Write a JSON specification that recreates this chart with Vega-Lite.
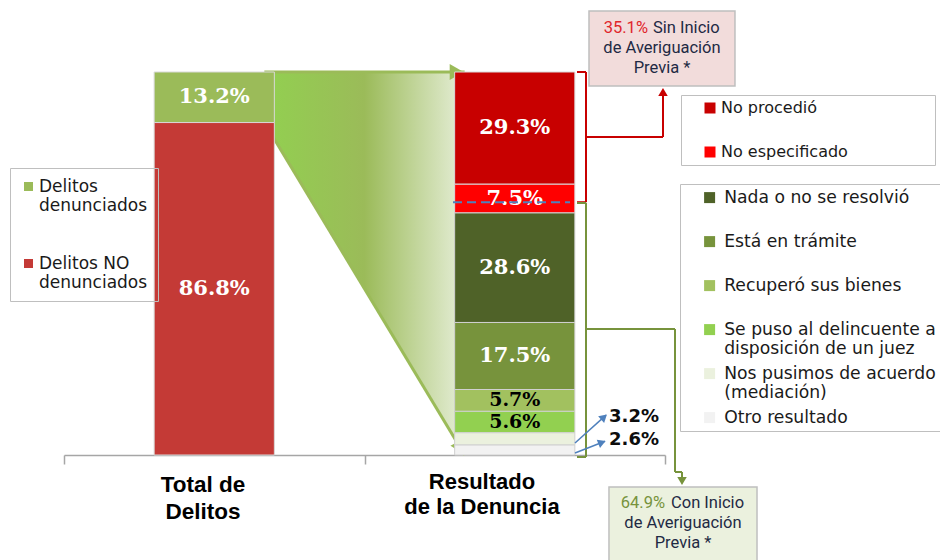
{
"$schema": "https://vega.github.io/schema/vega-lite/v6.json",
"width": 601,
"height": 383,
"autosize": {"type": "none"},
"padding": {"left": 64, "top": 72, "right": 275, "bottom": 105},
"background": "#ffffff",
"config": {
  "view": {"stroke": null},
  "axisX": {"labels": false, "tickBand": "extent", "domainColor": "#A6A6A6", "domainWidth": 1.5, "tickColor": "#A6A6A6", "tickWidth": 1.5, "tickSize": 9, "grid": false}
},
"resolve": {"scale": {"x": "independent", "y": "independent"}},
"layer": [
  {
    "data": {"values": [
      {"grupo": "Total de Delitos", "sup": 100, "inf": 86.8},
      {"grupo": "Resultado de la Denuncia", "sup": 100, "inf": 0}
    ]},
    "encoding": {
      "x": {"field": "grupo", "type": "nominal", "scale": {"type": "point", "domain": ["Total de Delitos", "Resultado de la Denuncia"], "padding": 1.19}, "axis": null},
      "y": {"field": "sup", "type": "quantitative", "scale": {"domain": [0, 100]}, "axis": null}
    },
    "layer": [
      {"mark": {"type": "area", "opacity": 1, "color": {"gradient": "linear", "x1": 0, "y1": 0, "x2": 1, "y2": 0, "stops": [{"offset": 0, "color": "#92D050"}, {"offset": 0.5, "color": "#9BBB59"}, {"offset": 1, "color": "#E6EED8"}]}},
       "encoding": {"y2": {"field": "inf"}}},
      {"mark": {"type": "line", "color": "#9BBB59", "strokeWidth": 3}, "encoding": {}},
      {"mark": {"type": "line", "color": "#9BBB59", "strokeWidth": 3},
       "encoding": {"y": {"field": "inf", "type": "quantitative", "scale": {"domain": [0, 100]}, "axis": null}}},
      {"transform": [{"filter": "datum.grupo == 'Resultado de la Denuncia'"}],
       "mark": {"type": "point", "shape": "triangle-right", "filled": true, "opacity": 1, "color": "#9BBB59", "size": 260, "xOffset": -8},
       "encoding": {}},
      {"transform": [{"filter": "datum.grupo == 'Resultado de la Denuncia'"}],
       "mark": {"type": "point", "shape": "triangle-right", "filled": true, "opacity": 1, "color": "#9BBB59", "size": 260, "angle": 61.7, "xOffset": -3.8, "yOffset": -7},
       "encoding": {"y": {"field": "inf", "type": "quantitative", "scale": {"domain": [0, 100]}, "axis": null}}}
    ]
  },
  {
    "data": {"values": [
      {"grupo": "Total de Delitos", "categoria": "Delitos denunciados", "averiguacion": "", "valor": 13.2, "orden": 1},
      {"grupo": "Total de Delitos", "categoria": "Delitos NO denunciados", "averiguacion": "", "valor": 86.8, "orden": 2},
      {"grupo": "Resultado de la Denuncia", "categoria": "No procedió", "averiguacion": "Sin inicio", "valor": 29.3, "orden": 1},
      {"grupo": "Resultado de la Denuncia", "categoria": "No especificado", "averiguacion": "Sin inicio", "valor": 7.5, "orden": 2},
      {"grupo": "Resultado de la Denuncia", "categoria": "Nada o no se resolvió", "averiguacion": "Con inicio", "valor": 28.6, "orden": 3},
      {"grupo": "Resultado de la Denuncia", "categoria": "Está en trámite", "averiguacion": "Con inicio", "valor": 17.5, "orden": 4},
      {"grupo": "Resultado de la Denuncia", "categoria": "Recuperó sus bienes", "averiguacion": "Con inicio", "valor": 5.7, "orden": 5},
      {"grupo": "Resultado de la Denuncia", "categoria": "Se puso al delincuente a disposición de un juez", "averiguacion": "Con inicio", "valor": 5.6, "orden": 6},
      {"grupo": "Resultado de la Denuncia", "categoria": "Nos pusimos de acuerdo (mediación)", "averiguacion": "Con inicio", "valor": 3.2, "orden": 7},
      {"grupo": "Resultado de la Denuncia", "categoria": "Otro resultado", "averiguacion": "Con inicio", "valor": 2.6, "orden": 8}
    ]},
    "transform": [
      {"stack": "valor", "groupby": ["grupo"], "sort": [{"field": "orden", "order": "descending"}], "as": ["y0", "y1"]},
      {"calculate": "(datum.y0 + datum.y1) / 2", "as": "medio"},
      {"calculate": "format(datum.valor, '.1f') + '%'", "as": "etiqueta"}
    ],
    "resolve": {"scale": {"color": "independent"}, "legend": {"color": "independent"}},
    "layer": [
      {
        "transform": [{"filter": "datum.grupo == 'Total de Delitos'"}],
        "mark": {"type": "bar", "width": {"band": 0.4}, "stroke": "#D9D9D9", "strokeWidth": 1},
        "encoding": {
          "x": {"field": "grupo", "type": "nominal", "title": null, "scale": {"domain": ["Total de Delitos", "Resultado de la Denuncia"], "paddingInner": 0, "paddingOuter": 0}},
          "y": {"field": "y0", "type": "quantitative", "scale": {"domain": [0, 100]}, "axis": null},
          "y2": {"field": "y1"},
          "color": {"field": "categoria", "type": "nominal",
            "scale": {"domain": ["Delitos denunciados", "Delitos NO denunciados"], "range": ["#9BBB59", "#C43A36"]},
            "legend": {"title": null, "orient": "none", "legendX": -54, "legendY": 96, "direction": "vertical", "strokeColor": "#BFBFBF", "padding": 10, "symbolType": "square", "symbolSize": 81, "symbolStrokeWidth": 0, "labelFont": "DejaVu Sans", "labelFontSize": 17, "labelColor": "#1a1a1a", "labelLimit": 500, "labelOffset": 2, "rowPadding": 40,
              "labelExpr": "datum.label == 'Delitos denunciados' ? ['Delitos', 'denunciados'] : ['Delitos NO', 'denunciados']",
              "encode": {"labels": {"update": {"lineHeight": {"value": 23}}}}}}
        }
      },
      {
        "transform": [{"filter": "datum.averiguacion == 'Sin inicio'"}],
        "mark": {"type": "bar", "width": {"band": 0.4}, "stroke": "#D9D9D9", "strokeWidth": 1},
        "encoding": {
          "x": {"field": "grupo", "type": "nominal", "title": null, "scale": {"domain": ["Total de Delitos", "Resultado de la Denuncia"], "paddingInner": 0, "paddingOuter": 0}},
          "y": {"field": "y0", "type": "quantitative", "scale": {"domain": [0, 100]}, "axis": null},
          "y2": {"field": "y1"},
          "color": {"field": "categoria", "type": "nominal",
            "scale": {"domain": ["No procedió", "No especificado"], "range": ["#C80000", "#FF0000"]},
            "legend": {"title": null, "orient": "none", "legendX": 617, "legendY": 23, "direction": "vertical", "strokeColor": "#BFBFBF", "padding": 5, "symbolOffset": 16, "symbolType": "square", "symbolSize": 121, "symbolStrokeWidth": 0, "labelFont": "DejaVu Sans", "labelFontSize": 16, "labelColor": "#1a1a1a", "labelLimit": 600, "labelOffset": 3, "rowPadding": 28,
              "labelExpr": "datum.label == 'No especificado' ? datum.label + '\u2800\u2800\u2800\u2800\u2800\u2800\u2800' : datum.label"}}
        }
      },
      {
        "transform": [{"filter": "datum.averiguacion == 'Con inicio'"}],
        "mark": {"type": "bar", "width": {"band": 0.4}, "stroke": "#D0D0D0", "strokeWidth": 1},
        "encoding": {
          "x": {"field": "grupo", "type": "nominal", "title": null, "scale": {"domain": ["Total de Delitos", "Resultado de la Denuncia"], "paddingInner": 0, "paddingOuter": 0}},
          "y": {"field": "y0", "type": "quantitative", "scale": {"domain": [0, 100]}, "axis": null},
          "y2": {"field": "y1"},
          "color": {"field": "categoria", "type": "nominal",
            "scale": {"domain": ["Nada o no se resolvió", "Está en trámite", "Recuperó sus bienes", "Se puso al delincuente a disposición de un juez", "Nos pusimos de acuerdo (mediación)", "Otro resultado"],
                      "range": ["#4F6228", "#77933C", "#A2C15F", "#92D050", "#EBF1DE", "#F2F2F2"]},
            "legend": {"title": null, "orient": "none", "legendX": 616, "legendY": 112, "direction": "vertical", "strokeColor": "#BFBFBF", "padding": 5, "symbolOffset": 16, "symbolType": "square", "symbolSize": 121, "symbolStrokeWidth": 0, "labelFont": "DejaVu Sans", "labelFontSize": 17.2, "labelColor": "#1a1a1a", "labelLimit": 600, "labelOffset": 6, "rowPadding": 7, "gridAlign": "all",
              "labelExpr": "datum.label == 'Se puso al delincuente a disposición de un juez' ? ['Se puso al delincuente a', 'disposición de un juez'] : datum.label == 'Nos pusimos de acuerdo (mediación)' ? ['Nos pusimos de acuerdo', '(mediación)'] : datum.label",
              "encode": {"labels": {"update": {"lineHeight": {"value": 21}}}}}}
        }
      },
      {
        "transform": [{"filter": "datum.valor >= 5"}],
        "mark": {"type": "text", "font": "DejaVu Serif", "fontWeight": "bold", "baseline": "middle", "align": "center"},
        "encoding": {
          "x": {"field": "grupo", "type": "nominal", "title": null, "scale": {"domain": ["Total de Delitos", "Resultado de la Denuncia"], "paddingInner": 0, "paddingOuter": 0}},
          "y": {"field": "medio", "type": "quantitative", "scale": {"domain": [0, 100]}, "axis": null},
          "text": {"field": "etiqueta"},
          "size": {"condition": {"test": "datum.valor < 6", "value": 19}, "value": 21},
          "color": {"condition": {"test": "datum.valor < 6", "value": "#000000"}, "value": "#FFFFFF"}
        }
      },
      {
        "transform": [{"filter": "datum.categoria == 'Nos pusimos de acuerdo (mediación)'"}],
        "mark": {"type": "text", "font": "DejaVu Sans", "fontWeight": "bold", "fontSize": 18, "baseline": "middle", "align": "left", "color": "#0D0D0D"},
        "encoding": {
          "x": {"field": "grupo", "type": "nominal", "title": null, "bandPosition": 0.8137, "scale": {"domain": ["Total de Delitos", "Resultado de la Denuncia"], "paddingInner": 0, "paddingOuter": 0}},
          "y": {"datum": 9.92, "type": "quantitative", "scale": {"domain": [0, 100]}, "axis": null},
          "text": {"field": "etiqueta"}
        }
      },
      {
        "transform": [{"filter": "datum.categoria == 'Otro resultado'"}],
        "mark": {"type": "text", "font": "DejaVu Sans", "fontWeight": "bold", "fontSize": 18, "baseline": "middle", "align": "left", "color": "#0D0D0D"},
        "encoding": {
          "x": {"field": "grupo", "type": "nominal", "title": null, "bandPosition": 0.8137, "scale": {"domain": ["Total de Delitos", "Resultado de la Denuncia"], "paddingInner": 0, "paddingOuter": 0}},
          "y": {"datum": 3.92, "type": "quantitative", "scale": {"domain": [0, 100]}, "axis": null},
          "text": {"field": "etiqueta"}
        }
      }
    ]
  },
  {
    "data": {"values": [{}]},
    "layer": [
      {"mark": {"type": "rule", "color": "#4F81BD", "strokeWidth": 2, "strokeDash": [9, 5]},
       "encoding": {"x": {"datum": 1.2945, "type": "quantitative", "scale": {"domain": [0, 2]}, "axis": null}, "x2": {"datum": 1.6839},
                    "y": {"datum": 66, "type": "quantitative", "scale": {"domain": [0, 100]}, "axis": null}}},

      {"mark": {"type": "rule", "color": "#C80000", "strokeWidth": 2},
       "encoding": {"x": {"datum": 1.7072, "type": "quantitative", "scale": {"domain": [0, 2]}, "axis": null}, "x2": {"datum": 1.7371},
                    "y": {"datum": 100, "type": "quantitative", "scale": {"domain": [0, 100]}, "axis": null}}},
      {"mark": {"type": "rule", "color": "#C80000", "strokeWidth": 2},
       "encoding": {"x": {"datum": 1.7371, "type": "quantitative", "scale": {"domain": [0, 2]}, "axis": null},
                    "y": {"datum": 100, "type": "quantitative", "scale": {"domain": [0, 100]}, "axis": null}, "y2": {"datum": 66}}},
      {"mark": {"type": "rule", "color": "#C80000", "strokeWidth": 2},
       "encoding": {"x": {"datum": 1.7072, "type": "quantitative", "scale": {"domain": [0, 2]}, "axis": null}, "x2": {"datum": 1.7371},
                    "y": {"datum": 66, "type": "quantitative", "scale": {"domain": [0, 100]}, "axis": null}}},
      {"mark": {"type": "rule", "color": "#C80000", "strokeWidth": 2},
       "encoding": {"x": {"datum": 1.7371, "type": "quantitative", "scale": {"domain": [0, 2]}, "axis": null}, "x2": {"datum": 1.9933},
                    "y": {"datum": 83.03, "type": "quantitative", "scale": {"domain": [0, 100]}, "axis": null}}},
      {"mark": {"type": "rule", "color": "#C80000", "strokeWidth": 2},
       "encoding": {"x": {"datum": 1.9933, "type": "quantitative", "scale": {"domain": [0, 2]}, "axis": null},
                    "y": {"datum": 83.03, "type": "quantitative", "scale": {"domain": [0, 100]}, "axis": null}, "y2": {"datum": 94.5}}},
      {"mark": {"type": "point", "shape": "triangle-up", "filled": true, "opacity": 1, "color": "#C80000", "size": 90},
       "encoding": {"x": {"datum": 1.9933, "type": "quantitative", "scale": {"domain": [0, 2]}, "axis": null},
                    "y": {"datum": 94.78, "type": "quantitative", "scale": {"domain": [0, 100]}, "axis": null}}},

      {"mark": {"type": "rule", "color": "#77933C", "strokeWidth": 2},
       "encoding": {"x": {"datum": 1.7072, "type": "quantitative", "scale": {"domain": [0, 2]}, "axis": null}, "x2": {"datum": 1.7371},
                    "y": {"datum": 65.8, "type": "quantitative", "scale": {"domain": [0, 100]}, "axis": null}}},
      {"mark": {"type": "rule", "color": "#77933C", "strokeWidth": 2},
       "encoding": {"x": {"datum": 1.7371, "type": "quantitative", "scale": {"domain": [0, 2]}, "axis": null},
                    "y": {"datum": 65.8, "type": "quantitative", "scale": {"domain": [0, 100]}, "axis": null}, "y2": {"datum": -0.52}}},
      {"mark": {"type": "rule", "color": "#77933C", "strokeWidth": 2},
       "encoding": {"x": {"datum": 1.7072, "type": "quantitative", "scale": {"domain": [0, 2]}, "axis": null}, "x2": {"datum": 1.7371},
                    "y": {"datum": -0.52, "type": "quantitative", "scale": {"domain": [0, 100]}, "axis": null}}},
      {"mark": {"type": "rule", "color": "#77933C", "strokeWidth": 2},
       "encoding": {"x": {"datum": 1.7371, "type": "quantitative", "scale": {"domain": [0, 2]}, "axis": null}, "x2": {"datum": 2.0333},
                    "y": {"datum": 32.9, "type": "quantitative", "scale": {"domain": [0, 100]}, "axis": null}}},
      {"mark": {"type": "rule", "color": "#77933C", "strokeWidth": 2},
       "encoding": {"x": {"datum": 2.0333, "type": "quantitative", "scale": {"domain": [0, 2]}, "axis": null},
                    "y": {"datum": 32.9, "type": "quantitative", "scale": {"domain": [0, 100]}, "axis": null}, "y2": {"datum": -4.44}}},
      {"mark": {"type": "rule", "color": "#77933C", "strokeWidth": 2},
       "encoding": {"x": {"datum": 2.0333, "type": "quantitative", "scale": {"domain": [0, 2]}, "axis": null}, "x2": {"datum": 2.0566},
                    "y": {"datum": -4.44, "type": "quantitative", "scale": {"domain": [0, 100]}, "axis": null}}},
      {"mark": {"type": "rule", "color": "#77933C", "strokeWidth": 2},
       "encoding": {"x": {"datum": 2.0566, "type": "quantitative", "scale": {"domain": [0, 2]}, "axis": null},
                    "y": {"datum": -4.44, "type": "quantitative", "scale": {"domain": [0, 100]}, "axis": null}, "y2": {"datum": -5.74}}},
      {"mark": {"type": "point", "shape": "triangle-down", "filled": true, "opacity": 1, "color": "#77933C", "size": 90},
       "encoding": {"x": {"datum": 2.0566, "type": "quantitative", "scale": {"domain": [0, 2]}, "axis": null},
                    "y": {"datum": -6.79, "type": "quantitative", "scale": {"domain": [0, 100]}, "axis": null}}},

      {"mark": {"type": "rule", "color": "#4F81BD", "strokeWidth": 1.5},
       "encoding": {"x": {"datum": 1.7005, "type": "quantitative", "scale": {"domain": [0, 2]}, "axis": null}, "x2": {"datum": 1.8037},
                    "y": {"datum": 3.13, "type": "quantitative", "scale": {"domain": [0, 100]}, "axis": null}, "y2": {"datum": 10.4}}},
      {"mark": {"type": "rule", "color": "#4F81BD", "strokeWidth": 1.5},
       "encoding": {"x": {"datum": 1.7005, "type": "quantitative", "scale": {"domain": [0, 2]}, "axis": null}, "x2": {"datum": 1.8003},
                    "y": {"datum": 0.52, "type": "quantitative", "scale": {"domain": [0, 100]}, "axis": null}, "y2": {"datum": 3.6}}},
      {"mark": {"type": "point", "shape": "triangle-right", "filled": true, "opacity": 1, "color": "#4F81BD", "size": 80, "angle": 317.8},
       "encoding": {"x": {"datum": 1.797, "type": "quantitative", "scale": {"domain": [0, 2]}, "axis": null},
                    "y": {"datum": 9.92, "type": "quantitative", "scale": {"domain": [0, 100]}, "axis": null}}},
      {"mark": {"type": "point", "shape": "triangle-right", "filled": true, "opacity": 1, "color": "#4F81BD", "size": 80, "angle": 338.8},
       "encoding": {"x": {"datum": 1.7903, "type": "quantitative", "scale": {"domain": [0, 2]}, "axis": null},
                    "y": {"datum": 3.26, "type": "quantitative", "scale": {"domain": [0, 100]}, "axis": null}}},

      {"mark": {"type": "rect", "fill": "#F2DCDB", "stroke": "#BFBFBF", "strokeWidth": 1.5},
       "encoding": {"x": {"datum": 1.7471, "type": "quantitative", "scale": {"domain": [0, 2]}, "axis": null}, "x2": {"datum": 2.2329},
                    "y": {"datum": 115.93, "type": "quantitative", "scale": {"domain": [0, 100]}, "axis": null}, "y2": {"datum": 96.34}}},
      {"mark": {"type": "rect", "fill": "#EBF1DE", "stroke": "#BFBFBF", "strokeWidth": 1.5},
       "encoding": {"x": {"datum": 1.8136, "type": "quantitative", "scale": {"domain": [0, 2]}, "axis": null}, "x2": {"datum": 2.3062},
                    "y": {"datum": -8.36, "type": "quantitative", "scale": {"domain": [0, 100]}, "axis": null}, "y2": {"datum": -30}}},

      {"mark": {"type": "text", "text": "35.1%", "align": "right", "baseline": "middle", "font": "Roboto", "fontSize": 16.5, "color": "#E0262B"},
       "encoding": {"x": {"datum": 1.9434, "type": "quantitative", "scale": {"domain": [0, 2]}, "axis": null},
                    "y": {"datum": 111.49, "type": "quantitative", "scale": {"domain": [0, 100]}, "axis": null}}},
      {"mark": {"type": "text", "text": "Sin Inicio", "align": "left", "baseline": "middle", "font": "Roboto", "fontSize": 16.5, "color": "#1F2A44"},
       "encoding": {"x": {"datum": 1.9601, "type": "quantitative", "scale": {"domain": [0, 2]}, "axis": null},
                    "y": {"datum": 111.49, "type": "quantitative", "scale": {"domain": [0, 100]}, "axis": null}}},
      {"mark": {"type": "text", "text": ["de Averiguación", "Previa *"], "lineHeight": 20, "align": "center", "baseline": "middle", "font": "Roboto", "fontSize": 16.5, "color": "#1F2A44"},
       "encoding": {"x": {"datum": 1.99, "type": "quantitative", "scale": {"domain": [0, 2]}, "axis": null},
                    "y": {"datum": 106.27, "type": "quantitative", "scale": {"domain": [0, 100]}, "axis": null}}},

      {"mark": {"type": "text", "text": "64.9%", "align": "right", "baseline": "middle", "font": "Roboto", "fontSize": 16.5, "color": "#77933C"},
       "encoding": {"x": {"datum": 2.0, "type": "quantitative", "scale": {"domain": [0, 2]}, "axis": null},
                    "y": {"datum": -12.53, "type": "quantitative", "scale": {"domain": [0, 100]}, "axis": null}}},
      {"mark": {"type": "text", "text": "Con Inicio", "align": "left", "baseline": "middle", "font": "Roboto", "fontSize": 16.5, "color": "#1F2A44"},
       "encoding": {"x": {"datum": 2.02, "type": "quantitative", "scale": {"domain": [0, 2]}, "axis": null},
                    "y": {"datum": -12.53, "type": "quantitative", "scale": {"domain": [0, 100]}, "axis": null}}},
      {"mark": {"type": "text", "text": ["de Averiguación", "Previa *"], "lineHeight": 20, "align": "center", "baseline": "middle", "font": "Roboto", "fontSize": 16.5, "color": "#1F2A44"},
       "encoding": {"x": {"datum": 2.0599, "type": "quantitative", "scale": {"domain": [0, 2]}, "axis": null},
                    "y": {"datum": -17.75, "type": "quantitative", "scale": {"domain": [0, 100]}, "axis": null}}},

      {"mark": {"type": "text", "text": ["Total de", "Delitos"], "lineHeight": 27, "align": "center", "baseline": "middle", "font": "Liberation Sans", "fontWeight": "bold", "fontSize": 22.5, "color": "#000000"},
       "encoding": {"x": {"datum": 0.4626, "type": "quantitative", "scale": {"domain": [0, 2]}, "axis": null},
                    "y": {"datum": -7.83, "type": "quantitative", "scale": {"domain": [0, 100]}, "axis": null}}},
      {"mark": {"type": "text", "text": ["Resultado", "de la Denuncia"], "lineHeight": 25, "align": "center", "baseline": "middle", "font": "Liberation Sans", "fontWeight": "bold", "fontSize": 22, "color": "#000000"},
       "encoding": {"x": {"datum": 1.391, "type": "quantitative", "scale": {"domain": [0, 2]}, "axis": null},
                    "y": {"datum": -7.05, "type": "quantitative", "scale": {"domain": [0, 100]}, "axis": null}}}
    ]
  }
]
}
